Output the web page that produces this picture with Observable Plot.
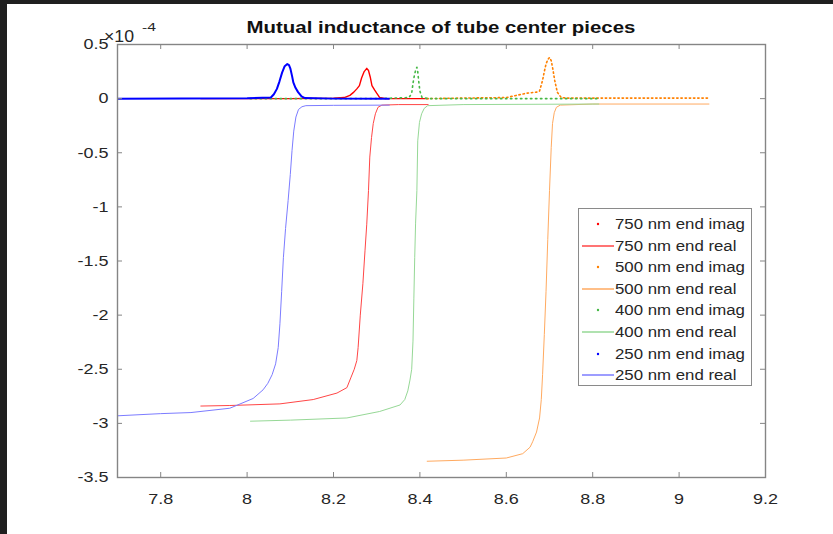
<!DOCTYPE html>
<html>
<head>
<meta charset="utf-8">
<script src="https://cdn.jsdelivr.net/npm/d3@7"></script>
<script src="https://cdn.jsdelivr.net/npm/@observablehq/plot@0.6"></script>
<style>
  html, body { margin: 0; padding: 0; background: #1f1f1f; }
  #fig { position: absolute; left: 7px; top: 4px; width: 826px; height: 530px; background: #fff; overflow: hidden; }
  #legend { position: absolute; left: 571px; top: 204px; width: 174px; height: 178px; border: 1px solid #8a8a8a; background: #fff; box-sizing: border-box; }
  .row { position: absolute; left: 0; height: 20px; width: 173px; }
  .row .lbl { position: absolute; left: 36px; top: 1px; font: 14px "Liberation Sans", Arial, sans-serif; color: #262626; transform: scaleX(1.2); transform-origin: left center; white-space: nowrap; line-height: 18px; }
  .row svg { position: absolute; left: 0; top: 0; }
</style>
</head>
<body>
<div id="fig"><div id="legend"></div></div>
<script>
// Axis ticks (values in units of 1e-4 H on y)
const xTicks = [7.8, 8, 8.2, 8.4, 8.6, 8.8, 9, 9.2];
const yTicks = [0.5, 0, -0.5, -1, -1.5, -2, -2.5, -3, -3.5];

// 750 nm end
const x750Imag = [7.892, 8.10, 8.20, 8.225, 8.238, 8.247, 8.254, 8.260, 8.265, 8.271, 8.277, 8.281, 8.285, 8.289, 8.295, 8.300, 8.307, 8.32, 8.42];
const y750Imag = [0, 0, 0.003, 0.01, 0.03, 0.06, 0.09, 0.12, 0.19, 0.25, 0.28, 0.26, 0.20, 0.12, 0.08, 0.05, 0.01, 0, 0];
const x750Real = [7.892, 7.96, 8.076, 8.153, 8.208, 8.231, 8.240, 8.248, 8.254, 8.257, 8.262, 8.268, 8.273, 8.277, 8.281, 8.284, 8.288, 8.292, 8.297, 8.303, 8.312, 8.35, 8.42];
const y750Real = [-2.84, -2.835, -2.82, -2.78, -2.72, -2.67, -2.58, -2.50, -2.42, -2.30, -2.00, -1.71, -1.40, -1.16, -0.85, -0.54, -0.36, -0.23, -0.14, -0.08, -0.06, -0.055, -0.055];

// 500 nm end
const x500Imag = [8.416, 8.50, 8.60, 8.647, 8.670, 8.677, 8.684, 8.688, 8.692, 8.696, 8.700, 8.704, 8.707, 8.712, 8.718, 8.727, 8.74, 8.90, 9.07];
const y500Imag = [0, 0.005, 0.01, 0.05, 0.06, 0.07, 0.17, 0.25, 0.32, 0.36, 0.38, 0.35, 0.29, 0.17, 0.06, 0.01, 0.005, 0.005, 0.005];
const x500Real = [8.416, 8.50, 8.60, 8.638, 8.655, 8.661, 8.670, 8.677, 8.681, 8.684, 8.688, 8.692, 8.696, 8.700, 8.704, 8.707, 8.711, 8.716, 8.725, 8.80, 9.07];
const y500Real = [-3.35, -3.34, -3.32, -3.28, -3.22, -3.17, -3.08, -2.95, -2.78, -2.55, -2.18, -1.78, -1.30, -0.85, -0.45, -0.23, -0.13, -0.08, -0.06, -0.05, -0.05];

// 400 nm end
const x400Imag = [8.007, 8.30, 8.375, 8.381, 8.384, 8.387, 8.390, 8.393, 8.395, 8.397, 8.400, 8.405, 8.42, 8.815];
const y400Imag = [0, 0, 0.01, 0.05, 0.14, 0.21, 0.26, 0.29, 0.25, 0.17, 0.07, 0.01, 0, 0];
const x400Real = [8.007, 8.10, 8.231, 8.307, 8.354, 8.365, 8.372, 8.377, 8.381, 8.384, 8.386, 8.388, 8.390, 8.393, 8.395, 8.399, 8.404, 8.410, 8.418, 8.50, 8.815];
const y400Real = [-2.98, -2.97, -2.95, -2.89, -2.83, -2.78, -2.70, -2.60, -2.50, -2.24, -1.85, -1.47, -1.15, -0.85, -0.39, -0.22, -0.14, -0.09, -0.065, -0.055, -0.05];

// 250 nm end
const x250Imag = [7.70, 8.00, 8.055, 8.062, 8.069, 8.075, 8.081, 8.087, 8.093, 8.097, 8.100, 8.104, 8.107, 8.112, 8.118, 8.126, 8.134, 8.20, 8.33];
const y250Imag = [0, 0.003, 0.01, 0.04, 0.09, 0.16, 0.24, 0.30, 0.32, 0.31, 0.28, 0.21, 0.15, 0.10, 0.06, 0.02, 0.005, 0, 0];
const x250Real = [7.70, 7.80, 7.87, 7.96, 8.014, 8.037, 8.048, 8.058, 8.066, 8.072, 8.076, 8.080, 8.084, 8.089, 8.095, 8.100, 8.104, 8.108, 8.113, 8.119, 8.127, 8.136, 8.20, 8.33];
const y250Real = [-2.93, -2.91, -2.90, -2.86, -2.77, -2.69, -2.63, -2.55, -2.45, -2.30, -2.08, -1.78, -1.47, -1.20, -0.94, -0.70, -0.48, -0.30, -0.17, -0.10, -0.075, -0.065, -0.062, -0.06];

const series = [
  {label: "750 nm end imag", xs: x750Imag, ys: y750Imag, kind: "imag", color: "#ff0000", width: 1.4, dash: null},
  {label: "750 nm end real", xs: x750Real, ys: y750Real, kind: "real", color: "#ff4646", width: 1, dash: null},
  {label: "500 nm end imag", xs: x500Imag, ys: y500Imag, kind: "imag", color: "#ff8000", width: 1.6, dash: "1.4,2.8"},
  {label: "500 nm end real", xs: x500Real, ys: y500Real, kind: "real", color: "#ffaa60", width: 1, dash: null},
  {label: "400 nm end imag", xs: x400Imag, ys: y400Imag, kind: "imag", color: "#45b845", width: 1.6, dash: "1.4,3.6"},
  {label: "400 nm end real", xs: x400Real, ys: y400Real, kind: "real", color: "#96d896", width: 1, dash: null},
  {label: "250 nm end imag", xs: x250Imag, ys: y250Imag, kind: "imag", color: "#0000ff", width: 2, dash: null},
  {label: "250 nm end real", xs: x250Real, ys: y250Real, kind: "real", color: "#7c7cff", width: 1, dash: null}
];

const axisColor = "#858585";
const W = 826, H = 530, mL = 110, mR = 68, mT = 40, mB = 57;
const innerW = W - mL - mR, innerH = H - mT - mB;
const tickLen = 5;

const lineMarks = series.map(s => Plot.line(
  s.xs.map((x, i) => ({x, y: s.ys[i]})),
  {x: "x", y: "y", stroke: s.color, strokeWidth: s.width, strokeDasharray: s.dash, strokeLinecap: s.dash ? "round" : "butt"}
));

const chart = Plot.plot({
  width: W, height: H,
  marginLeft: mL, marginRight: mR, marginTop: mT, marginBottom: mB,
  style: {fontFamily: "'Liberation Sans', Arial, sans-serif", fontSize: "14px", color: "#262626", background: "#fff", overflow: "visible"},
  x: {domain: [7.7, 9.2]},
  y: {domain: [-3.5, 0.5]},
  marks: [
    ...lineMarks,
    // inward ticks on all four sides
    Plot.tickX(xTicks, {x: d => d, stroke: axisColor, insetTop: innerH - tickLen}),
    Plot.tickX(xTicks, {x: d => d, stroke: axisColor, insetBottom: innerH - tickLen}),
    Plot.tickY(yTicks, {y: d => d, stroke: axisColor, insetRight: innerW - tickLen}),
    Plot.tickY(yTicks, {y: d => d, stroke: axisColor, insetLeft: innerW - tickLen}),
    Plot.axisX({ticks: xTicks, tickSize: 0, tickPadding: 16, tickFormat: d => String(d), label: null, fontSize: 15}),
    Plot.axisY({ticks: yTicks, tickSize: 0, tickPadding: 9, tickFormat: d => String(d), label: null, fontSize: 15}),
    Plot.frame({stroke: axisColor, strokeWidth: 1.4})
  ]
});

const fig = document.getElementById("fig");
fig.insertBefore(chart, fig.firstChild);

const svg = d3.select(chart);

// title
svg.append("text")
  .attr("class", "title")
  .attr("x", mL + innerW / 2).attr("y", 29)
  .attr("text-anchor", "middle")
  .attr("font-weight", "bold").attr("font-size", 17)
  .attr("fill", "#111")
  .text("Mutual inductance of tube center pieces");

// widen glyphs horizontally
function stretch(sel, k) {
  sel.each(function() {
    const L = this.getComputedTextLength();
    if (L > 0) {
      this.setAttribute("textLength", (L * k).toFixed(1));
      this.setAttribute("lengthAdjust", "spacingAndGlyphs");
    }
  });
}
stretch(svg.selectAll("g[aria-label='x-axis tick label'] text, g[aria-label='y-axis tick label'] text"), 1.2);
stretch(svg.selectAll("text.title"), 1.2);

// exponent label of the y axis
const expo = svg.append("g").attr("fill", "#262626");
expo.append("text").attr("x", mL + 2).attr("y", 38)
  .style("font-size", "16px")
  .attr("textLength", 30).attr("lengthAdjust", "spacingAndGlyphs")
  .text("×10");
expo.append("text").attr("x", mL + 32).attr("y", 27)
  .style("font-size", "11.5px")
  .attr("textLength", 14).attr("lengthAdjust", "spacingAndGlyphs")
  .text("-4");

// legend
const legend = d3.select("#legend");
series.forEach((s, i) => {
  const row = legend.append("div").attr("class", "row").style("top", (5 + 21.6 * i) + "px");
  const sw = row.append("svg").attr("width", 36).attr("height", 20);
  if (s.kind === "real") {
    sw.append("line").attr("x1", 3).attr("x2", 35).attr("y1", 10).attr("y2", 10)
      .attr("stroke", s.color).attr("stroke-width", 1.5);
  } else {
    sw.append("circle").attr("cx", 19).attr("cy", 10).attr("r", 1.2).attr("fill", s.color);
  }
  row.append("span").attr("class", "lbl").text(s.label);
});
</script>
</body>
</html>
